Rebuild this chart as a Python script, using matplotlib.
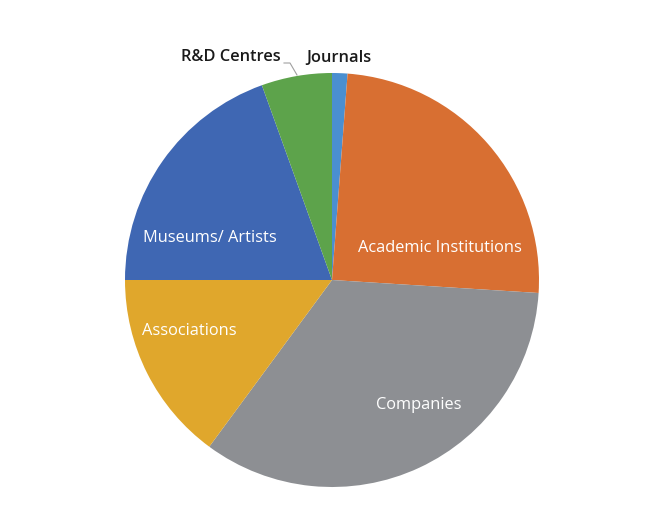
import matplotlib.pyplot as plt

# shares (%), clockwise from 12 o'clock
categories = ['Journals', 'Academic Institutions', 'Companies', 'Associations',
              'Museums/ Artists', 'R&D Centres']
shares = [1.2, 24.8, 34.1, 14.9, 19.5, 5.5]
colors = ['#4a8fd0', '#d86f32', '#8d8f93', '#e0a72c', '#3f67b3', '#5da34b']

# label positions (pixel coords, y from top)
inside_pos = {
    'Academic Institutions': (440, 248),
    'Companies': (419, 405),
    'Associations': (189, 331),
    'Museums/ Artists': (210, 238),
}
outside_pos = {
    'Journals': (339, 58),
    'R&D Centres': (231, 57),
}

W, H = 665, 529
fig = plt.figure(figsize=(W / 100, H / 100), dpi=100)
ax = fig.add_axes([0, 0, 1, 1])

cx, cy, r = 332, H - 280, 207
wedges, _ = ax.pie(shares, colors=colors, startangle=90, counterclock=False,
                   center=(cx, cy), radius=r, frame=True,
                   wedgeprops=dict(linewidth=0))
ax.set_xlim(0, W)
ax.set_ylim(0, H)
ax.axis('off')

font = ['Open Sans', 'DejaVu Sans']
for name, (x, y) in inside_pos.items():
    ax.text(x, H - y, name, color='white', fontsize=11.8, family=font,
            ha='center', va='center')
for name, (x, y) in outside_pos.items():
    ax.text(x, H - y, name, color='#1a1a1a', fontsize=11.8, family=font,
            fontweight='semibold', ha='center', va='center')

# leader line for R&D Centres
ax.plot([284, 290, 297], [H - 63, H - 63, H - 75], color='#a0a0a0', linewidth=0.8)

fig.savefig('out.png', dpi=100)
